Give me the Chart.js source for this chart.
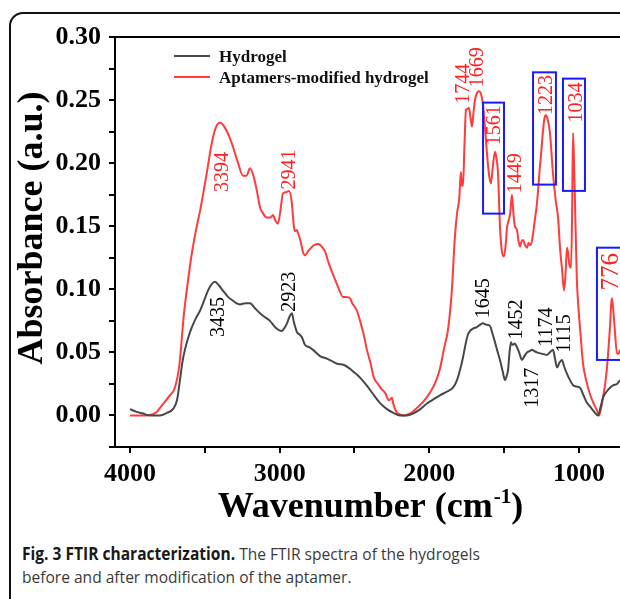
<!DOCTYPE html>
<html>
<head>
<meta charset="utf-8">
<script src="https://cdn.jsdelivr.net/npm/chart.js@4"></script>
<style>
  body { margin: 0; background: #fff; width: 620px; height: 599px; overflow: hidden; position: relative; }
  #frame { position: absolute; left: 9px; top: 12px; width: 720px; height: 700px; border: 2px solid #111; border-radius: 14px; }
  #ftir { position: absolute; left: 0; top: 0; }
  #caption { position: absolute; left: 22px; top: 542px; font-family: "Open Sans", sans-serif; font-size: 17px; line-height: 23px; color: #3a3a3a; white-space: nowrap; transform: scaleX(0.915); transform-origin: left top; }
  #caption b { color: #1a1a1a; }
</style>
</head>
<body>
<div id="frame"></div>
<canvas id="ftir" width="620" height="525"></canvas>
<div id="caption"><b>Fig. 3 FTIR characterization.</b> The FTIR spectra of the hydrogels<br>before and after modification of the aptamer.</div>
<script>
// spectra (wavenumber cm-1, absorbance a.u.)
var wnGel = [4000,3960,3913,3866,3800,3753,3713,3686,3666,3650,3633,3610,3586,3560,3532,3505,3479,3455,3432,3405,3379,3345,3312,3290,3265,3230,3198,3165,3131,3100,3065,3030,2987,2970,2951,2935,2918,2905,2884,2865,2851,2831,2800,2777,2730,2684,2650,2617,2570,2530,2500,2463,2420,2376,2330,2283,2240,2196,2150,2109,2060,2016,1970,1929,1880,1842,1815,1795,1775,1762,1745,1728,1705,1682,1660,1641,1620,1595,1578,1561,1545,1528,1510,1494,1484,1474,1464,1454,1447,1441,1430,1414,1400,1381,1365,1347,1330,1314,1298,1281,1250,1214,1195,1174,1160,1147,1130,1114,1100,1080,1060,1040,1020,993,970,947,925,906,873,855,840,815,793,770,746,726];
var absGel = [0.005,0.003,0.0015,0.000,0.000,0.002,0.005,0.012,0.028,0.042,0.052,0.062,0.070,0.077,0.083,0.091,0.099,0.104,0.106,0.103,0.099,0.094,0.091,0.089,0.088,0.089,0.089,0.085,0.081,0.078,0.075,0.070,0.067,0.069,0.073,0.078,0.081,0.074,0.066,0.064,0.062,0.056,0.054,0.052,0.047,0.045,0.043,0.041,0.040,0.037,0.034,0.030,0.024,0.017,0.010,0.005,0.002,0.000,0.000,0.0015,0.005,0.0095,0.013,0.016,0.019,0.022,0.028,0.036,0.046,0.054,0.063,0.067,0.069,0.070,0.072,0.073,0.072,0.071,0.065,0.058,0.051,0.044,0.035,0.028,0.031,0.036,0.050,0.058,0.056,0.056,0.057,0.054,0.050,0.044,0.047,0.050,0.051,0.052,0.051,0.050,0.049,0.048,0.050,0.052,0.045,0.038,0.042,0.044,0.039,0.033,0.028,0.024,0.023,0.022,0.016,0.010,0.007,0.004,0.000,0.007,0.014,0.019,0.022,0.024,0.025,0.028];

var wnApt = [4000,3900,3830,3780,3740,3700,3670,3640,3612,3586,3550,3532,3490,3450,3420,3399,3370,3340,3312,3280,3245,3222,3198,3175,3152,3131,3110,3087,3060,3045,3030,3011,2995,2978,2955,2938,2920,2905,2898,2885,2878,2860,2845,2831,2810,2797,2770,2740,2720,2697,2670,2644,2610,2577,2555,2530,2515,2497,2483,2463,2440,2417,2396,2370,2343,2320,2296,2270,2250,2240,2220,2200,2176,2140,2110,2083,2040,1996,1960,1929,1900,1875,1849,1830,1815,1800,1789,1782,1775,1765,1755,1745,1735,1725,1715,1705,1695,1680,1668,1655,1641,1628,1615,1600,1588,1575,1561,1550,1541,1528,1515,1501,1490,1481,1474,1460,1448,1438,1428,1414,1405,1394,1384,1374,1360,1347,1337,1327,1315,1307,1295,1281,1261,1250,1241,1230,1221,1210,1194,1174,1155,1140,1125,1114,1100,1090,1080,1073,1065,1053,1046,1040,1033,1027,1015,1007,990,973,950,927,900,880,866,852,840,825,813,800,793,785,780,772,760,746,736,726];
var absApt = [0.000,0.000,0.002,0.009,0.015,0.022,0.040,0.080,0.107,0.129,0.152,0.162,0.190,0.218,0.230,0.232,0.229,0.222,0.213,0.201,0.190,0.190,0.196,0.190,0.178,0.165,0.160,0.157,0.157,0.159,0.155,0.152,0.162,0.176,0.177,0.178,0.170,0.150,0.146,0.147,0.145,0.138,0.130,0.127,0.130,0.132,0.135,0.136,0.134,0.130,0.120,0.112,0.102,0.094,0.094,0.093,0.089,0.086,0.083,0.075,0.065,0.052,0.043,0.030,0.025,0.021,0.018,0.012,0.014,0.009,0.003,0.001,0.000,0.001,0.003,0.006,0.011,0.018,0.026,0.037,0.054,0.068,0.100,0.140,0.160,0.172,0.193,0.182,0.182,0.215,0.242,0.243,0.244,0.236,0.229,0.240,0.250,0.256,0.257,0.255,0.246,0.228,0.208,0.190,0.184,0.198,0.209,0.203,0.192,0.150,0.130,0.126,0.135,0.149,0.153,0.160,0.175,0.160,0.150,0.147,0.139,0.134,0.138,0.139,0.135,0.133,0.137,0.135,0.138,0.144,0.155,0.168,0.197,0.212,0.225,0.236,0.238,0.235,0.224,0.192,0.170,0.157,0.130,0.117,0.099,0.112,0.133,0.129,0.120,0.117,0.160,0.224,0.200,0.171,0.110,0.091,0.065,0.041,0.027,0.017,0.009,0.004,0.000,0.006,0.014,0.025,0.038,0.058,0.070,0.088,0.093,0.085,0.067,0.049,0.049,0.052];

var seriesNames = ['Hydrogel', 'Aptamers-modified hydrogel'];

// peak labels: text, wavenumber, absorbance (label centre), series index
var peakText = ['3435','2923','1645','1452','1317','1174','1115','3394','2941','1744','1669','1561','1449','1223','1034','776'];
var peakWn   = [3412,2938,1641,1421,1314,1221,1100,3385,2938,1775,1682,1568,1428,1221,1020,793];
var peakAbs  = [0.078,0.098,0.093,0.076,0.022,0.070,0.065,0.193,0.195,0.263,0.276,0.230,0.192,0.254,0.248,0.114];
var peakSeries = [0,0,0,0,0,0,0,1,1,1,1,1,1,1,1,1];

// highlighted regions: wavenumber from/to, absorbance from/to
var boxWn1  = [1641,1307,1107,880];
var boxWn2  = [1501,1154,960,680];
var boxAbs1 = [0.248,0.272,0.267,0.133];
var boxAbs2 = [0.160,0.183,0.178,0.044];

var xTickValues = [4000, 3500, 3000, 2500, 2000, 1500, 1000];
var xTickLabels = [4000, 3000, 2000, 1000];

var serif = '"Liberation Serif", "Times New Roman", serif';
var colors = ['#474747', '#ff3b3b'];

function pts(xs, ys) { return xs.map(function (v, i) { return {x: v, y: ys[i]}; }); }

var decor = {
  id: 'decor',
  afterDatasetsDraw: function (chart) {
    var ctx = chart.ctx, a = chart.chartArea, x = chart.scales.x, y = chart.scales.y;
    ctx.save();
    // top frame line
    ctx.strokeStyle = '#000';
    ctx.lineWidth = 2;
    ctx.beginPath();
    ctx.moveTo(a.left, a.top);
    ctx.lineTo(a.right + 5, a.top);
    ctx.stroke();

    // blue boxes
    ctx.strokeStyle = '#1a1aff';
    ctx.lineWidth = 2;
    for (var i = 0; i < boxWn1.length; i++) {
      var x1 = x.getPixelForValue(boxWn1[i]), x2 = x.getPixelForValue(boxWn2[i]);
      var y1 = y.getPixelForValue(boxAbs1[i]), y2 = y.getPixelForValue(boxAbs2[i]);
      ctx.strokeRect(x1, y1, x2 - x1, y2 - y1);
    }

    // peak labels, rotated
    ctx.textAlign = 'center';
    ctx.textBaseline = 'middle';
    for (var j = 0; j < peakText.length; j++) {
      ctx.save();
      ctx.translate(x.getPixelForValue(peakWn[j]), y.getPixelForValue(peakAbs[j]));
      ctx.rotate(-Math.PI / 2);
      ctx.fillStyle = peakSeries[j] ? '#ff2020' : '#000';
      ctx.font = (peakText[j] === '776' ? '25px ' : '20px ') + serif;
      ctx.fillText(peakText[j], 0, 1);
      ctx.restore();
    }

    // legend
    ctx.textAlign = 'left';
    ctx.textBaseline = 'alphabetic';
    ctx.font = 'bold 17px ' + serif;
    for (var k = 0; k < seriesNames.length; k++) {
      var ly = 56 + k * 21;
      ctx.strokeStyle = colors[k];
      ctx.lineWidth = 2;
      ctx.beginPath();
      ctx.moveTo(174, ly);
      ctx.lineTo(210, ly);
      ctx.stroke();
      ctx.fillStyle = '#111';
      ctx.fillText(seriesNames[k], 219, ly + 6);
    }

    // axis titles
    ctx.fillStyle = '#000';
    ctx.font = 'bold 36px ' + serif;
    var main = 'Wavenumber (cm', sup = '-1', close = ')';
    var w1 = ctx.measureText(main).width, w3 = ctx.measureText(close).width;
    ctx.font = 'bold 21px ' + serif;
    var w2 = ctx.measureText(sup).width;
    var sx = 370 - (w1 + w2 + w3) / 2;
    ctx.font = 'bold 36px ' + serif;
    ctx.fillText(main, sx, 517);
    ctx.fillText(close, sx + w1 + w2 + 1, 517);
    ctx.font = 'bold 21px ' + serif;
    ctx.fillText(sup, sx + w1 + 1, 503);

    ctx.save();
    ctx.translate(42, 228);
    ctx.rotate(-Math.PI / 2);
    ctx.textAlign = 'center';
    ctx.font = 'bold 36px ' + serif;
    ctx.fillText('Absorbance (a.u.)', 0, 0);
    ctx.restore();

    ctx.restore();
  }
};

new Chart(document.getElementById('ftir'), {
  type: 'line',
  data: {
    datasets: [
      { label: seriesNames[0], data: pts(wnGel, absGel), borderColor: colors[0], borderWidth: 2, pointRadius: 0, tension: 0.3, cubicInterpolationMode: 'monotone', fill: false },
      { label: seriesNames[1], data: pts(wnApt, absApt), borderColor: colors[1], borderWidth: 2, pointRadius: 0, tension: 0.3, cubicInterpolationMode: 'monotone', fill: false }
    ]
  },
  options: {
    responsive: false,
    animation: false,
    layout: { padding: { top: 37, right: 0, left: 0, bottom: 0 } },
    plugins: { legend: { display: false }, tooltip: { enabled: false } },
    scales: {
      x: {
        type: 'linear',
        reverse: true,
        min: 726,
        max: 4100,
        afterBuildTicks: function (s) { s.ticks = xTickValues.map(function (v) { return {value: v}; }); },
        afterFit: function (s) { s.height = 78; },
        ticks: {
          autoSkip: false,
          color: '#000',
          padding: 6,
          maxRotation: 0,
          font: { family: serif, size: 26, weight: 'bold' },
          callback: function (v) { return xTickLabels.indexOf(v) >= 0 ? String(v) : ''; }
        },
        grid: { drawOnChartArea: false, tickLength: 6, color: '#000', lineWidth: 2 },
        border: { color: '#000', width: 2 }
      },
      y: {
        min: -0.025,
        max: 0.30,
        afterFit: function (s) { s.width = 115; },
        ticks: {
          stepSize: 0.025,
          autoSkip: false,
          color: '#000',
          padding: 8,
          font: { family: serif, size: 26, weight: 'bold' },
          callback: function (v) {
            var m = Math.round(v * 1000);
            return (m >= 0 && m % 50 === 0) ? (m / 1000).toFixed(2) : '';
          }
        },
        grid: { drawOnChartArea: false, tickLength: 6, color: '#000', lineWidth: 2 },
        border: { color: '#000', width: 2 }
      }
    }
  },
  plugins: [decor]
});
</script>
</body>
</html>
